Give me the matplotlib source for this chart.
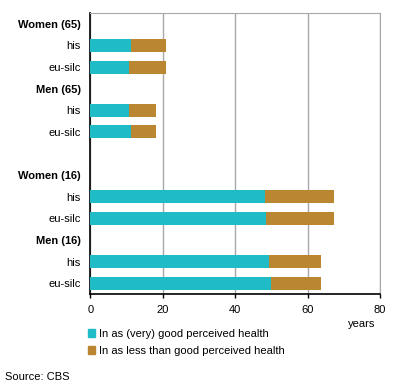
import matplotlib.pyplot as plt
from matplotlib.patches import Patch

plt.rcParams['font.family'] = ['Liberation Sans', 'DejaVu Sans']
plt.rcParams['font.size'] = 8

# rows top to bottom; groups get a bold header row, None = empty spacer row
groups = ['Women (65)', 'Men (65)', None, 'Women (16)', 'Men (16)']
sources = ['his', 'eu-silc']
good = [11.2, 10.6, 10.6, 11.2, 48.3, 48.6, 49.2, 49.9]
less_good = [9.8, 10.4, 7.6, 6.8, 19.1, 18.8, 14.6, 13.9]

c_good = '#1fbbc6'
c_less = '#bb8632'

labels, bold, bar_rows = [], [], []
for g in groups:
    if g is None:
        labels.append('')
        bold.append(False)
        continue
    labels.append(g)
    bold.append(True)
    for s in sources:
        bar_rows.append(len(labels))
        labels.append(s)
        bold.append(False)

fig = plt.figure(figsize=(3.96, 3.86), dpi=100)
ax = fig.add_axes([0.2285, 0.2383, 0.7311, 0.728])

ax.barh(bar_rows, good, height=0.6, color=c_good, zorder=3)
ax.barh(bar_rows, less_good, left=good, height=0.6, color=c_less, zorder=3)

ax.set_ylim(len(labels) - 0.5, -0.5)
ax.set_xlim(0, 80)
ax.set_xticks([0, 20, 40, 60, 80])
ax.set_yticks(range(len(labels)))
ax.set_yticklabels(labels)
for t, b in zip(ax.get_yticklabels(), bold):
    if b:
        t.set_fontweight('bold')
ax.tick_params(axis='y', length=0, pad=7)
ax.tick_params(axis='x', length=3, width=1, pad=5, direction='out')
ax.grid(axis='x', color='#a8a8a8', linewidth=1, zorder=0)

for side in ['top', 'right']:
    ax.spines[side].set_color('#a8a8a8')
for side in ['left', 'bottom']:
    ax.spines[side].set_color('black')
    ax.spines[side].set_linewidth(1.2)

fig.text(362 / 396, 1 - 324 / 386, 'years', ha='center', va='center')

handles = [Patch(color=c_good, label='In as (very) good perceived health'),
           Patch(color=c_less, label='In as less than good perceived health')]
fig.legend(handles=handles, loc='upper left', bbox_to_anchor=(88 / 396, 1 - 329 / 386),
           frameon=False, handlelength=0.65, handleheight=0.65, handletextpad=0.3,
           labelspacing=0.62, borderpad=0, borderaxespad=0)

fig.text(5 / 396, 1 - 377 / 386, 'Source: CBS', ha='left', va='center')

fig.savefig('out.png', dpi=100)
